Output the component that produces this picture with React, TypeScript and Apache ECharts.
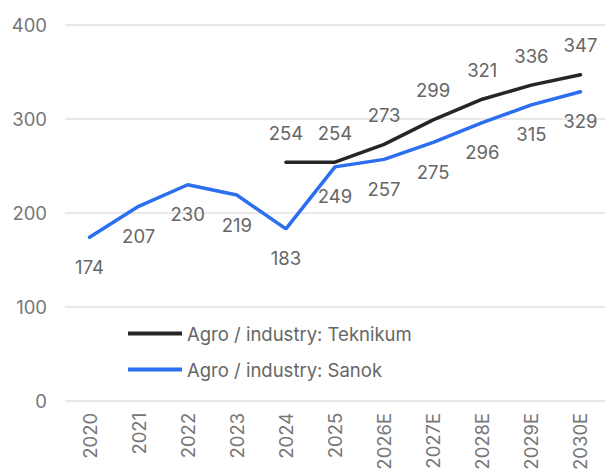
import React, { useEffect, useRef } from "react";
import * as echarts from "echarts";

const categories = ["2020", "2021", "2022", "2023", "2024", "2025", "2026E", "2027E", "2028E", "2029E", "2030E"];
const teknikum = [null, null, null, null, 254, 254, 273, 299, 321, 336, 347];
const sanok = [174, 207, 230, 219, 183, 249, 257, 275, 296, 315, 329];
const yTicks = { min: 0, max: 400, interval: 100 };

const FONT = "Inter, 'Noto Sans', sans-serif";

export default function App() {
  const ref = useRef<HTMLDivElement>(null);
  useEffect(() => {
    if (!ref.current) return;
    const chart = echarts.init(ref.current, undefined, { renderer: "svg" });
    chart.setOption({
      animation: false,
      textStyle: { fontFamily: FONT },
      grid: { left: 65, right: -8, top: 25, bottom: 71, containLabel: false },
      legend: {
        orient: "vertical",
        left: 128,
        top: 324,
        padding: 0,
        itemGap: 17,
        itemWidth: 54,
        itemHeight: 4,
        icon: "rect",
        textStyle: { color: "#666", fontSize: 18.5, fontFamily: FONT },
        data: ["Agro / industry: Teknikum", "Agro / industry: Sanok"],
      },
      xAxis: {
        type: "category",
        data: categories,
        boundaryGap: true,
        axisLine: { show: false },
        axisTick: { show: false },
        axisLabel: { rotate: 90, color: "#777", fontSize: 18.5, margin: 12, fontFamily: FONT },
      },
      yAxis: {
        type: "value",
        min: yTicks.min,
        max: yTicks.max,
        interval: yTicks.interval,
        axisLabel: { color: "#777", fontSize: 18.5, margin: 18, fontFamily: FONT },
        splitLine: { lineStyle: { color: "#e0e0e0", width: 1.5 } },
      },
      series: [
        {
          name: "Agro / industry: Teknikum",
          type: "line",
          data: teknikum,
          symbol: "circle",
          symbolSize: 0,
          showSymbol: true,
          color: "#262626",
          lineStyle: { width: 3.5, color: "#262626", cap: "round" },
          label: { show: true, position: "top", distance: 20, color: "#666", fontSize: 18.5, fontFamily: FONT },
        },
        {
          name: "Agro / industry: Sanok",
          type: "line",
          data: sanok,
          symbol: "circle",
          symbolSize: 0,
          showSymbol: true,
          color: "#2b6ef0",
          lineStyle: { width: 3.5, color: "#2b6ef0", cap: "round" },
          label: { show: true, position: "bottom", distance: 20, color: "#666", fontSize: 18.5, fontFamily: FONT },
        },
      ],
    });
    return () => chart.dispose();
  }, []);
  return <div ref={ref} style={{ position: "absolute", left: 0, top: 0, width: 605, height: 473 }} />;
}
